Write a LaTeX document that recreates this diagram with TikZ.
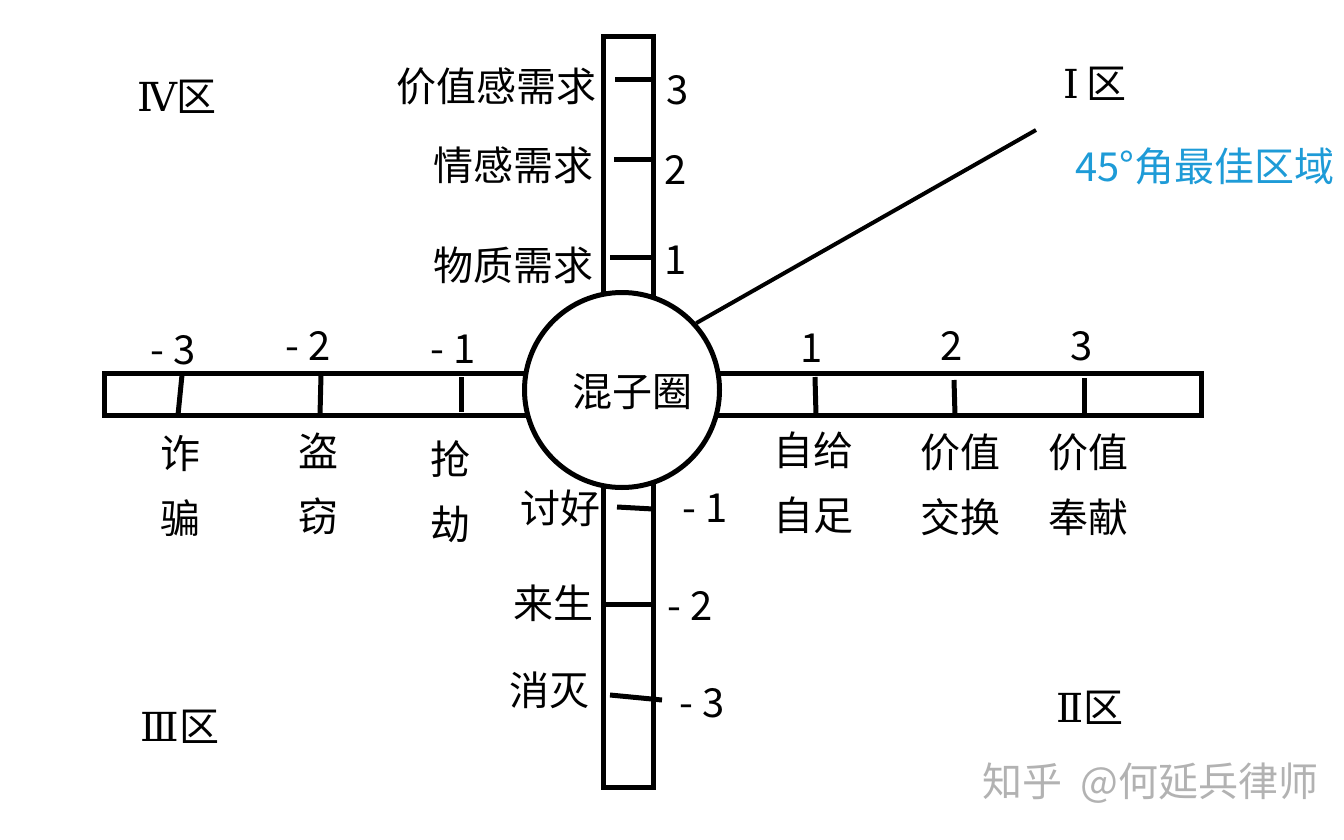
\documentclass[tikz,border=0pt]{standalone}
\usepackage{fontspec}
\setmainfont{Noto Sans CJK SC}
\newfontfamily\romanfont{DejaVu Serif}
\usetikzlibrary{positioning}
\usepackage{xcolor}
\definecolor{zoneblue}{RGB}{30,155,215}
\tikzstyle{bar} = [line width=2.5pt]
\tikzstyle{tickline} = [line width=2.5pt]
\tikzstyle{lbl} = [inner sep=0pt, font=\fontsize{20}{32.5}\selectfont, align=center]

\begin{document}
\begin{tikzpicture}[x=0.5pt, y=-0.5pt]
    \useasboundingbox (0,0) rectangle (1344,840);

    % Bars
    \draw [bar] (104,373) rectangle (1201,415);
    \draw [bar] (603,37) rectangle (653,787);

    % Centre circle
    \node (hub) [circle, draw, fill=white, line width=2.5pt, minimum size=97.5pt, inner sep=0pt] at (622,390) {};
    \node (hubtext) [lbl] at (632,392) {混子圈};

    % Ticks on the vertical bar
    \draw [tickline] (615,80) -- (653,80);
    \draw [tickline] (614,160) -- (653,160);
    \draw [tickline] (610,257) -- (653,257);
    \draw [tickline] (617,507) -- (653,509);
    \draw [tickline] (603,604) -- (653,604);
    \draw [tickline] (610,695) -- (662,700);

    % Ticks on the horizontal bar
    \draw [tickline] (182,375) -- (178,415);
    \draw [tickline] (321,375) -- (320,415);
    \draw [tickline] (461,377) -- (461,412);
    \draw [tickline] (815,377) -- (816,415);
    \draw [tickline] (954,380) -- (955,415);
    \draw [tickline] (1084,378) -- (1084,415);

    % Vertical axis labels
    \node (v3) [lbl, anchor=east] at (597,86) {价值感需求};
    \node (v2) [lbl, anchor=east] at (594,165) {情感需求};
    \node (v1) [lbl, anchor=east] at (594,265) {物质需求};
    \node (vm1) [lbl, anchor=east] at (601,508) {讨好};
    \node (vm2) [lbl, anchor=east] at (594,603) {来生};
    \node (vm3) [lbl, anchor=east] at (590,690) {消灭};
    \node (n3) [lbl] at (678,90) {3};
    \node (n2) [lbl] at (676,170) {2};
    \node (n1) [lbl] at (676,260) {1};
    \node (nm1) [lbl] at (705,508) {- 1};
    \node (nm2) [lbl] at (690,606) {- 2};
    \node (nm3) [lbl] at (702,703) {- 3};

    % Horizontal axis labels
    \node (hm3) [lbl] at (173,350) {- 3};
    \node (hm2) [lbl] at (308,346) {- 2};
    \node (hm1) [lbl] at (453,349) {- 1};
    \node (h1) [lbl] at (812,348) {1};
    \node (h2) [lbl] at (952,346) {2};
    \node (h3) [lbl] at (1082,346) {3};
    \node (fraud) [lbl] at (180,486) {诈\\骗};
    \node (theft) [lbl] at (318,484) {盗\\窃};
    \node (rob) [lbl] at (450,492) {抢\\劫};
    \node (self) [lbl] at (813,483) {自给\\自足};
    \node (trade) [lbl] at (960,485) {价值\\交换};
    \node (give) [lbl] at (1088,485) {价值\\奉献};

    % Zones
    \node (z4) [lbl] at (177,97) {{\romanfont Ⅳ}区};
    \node (z1) [lbl] at (1095,84) {{\romanfont Ⅰ}\,区};
    \node (z3) [lbl] at (180,727) {{\romanfont Ⅲ}区};
    \node (z2) [lbl] at (1090,708) {{\romanfont Ⅱ}区};
    \node (best) [lbl, anchor=west, text=zoneblue] at (1075,166) {45°角最佳区域};

    % 45 degree line
    \coordinate (tip) at (1036,130);
    \draw [line width=2pt] (hub.42) -- (tip);

    % Watermark
    \node (mark1) [lbl, text=black!30, anchor=west] at (982,783) {知乎\ \ @何延兵律师};
\end{tikzpicture}
\end{document}
